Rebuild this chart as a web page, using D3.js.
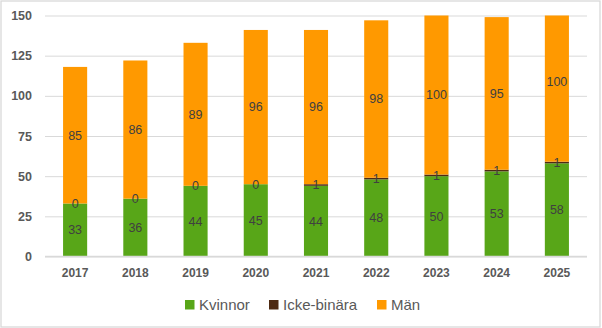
<!DOCTYPE html>
<html><head><meta charset="utf-8">
<script src="https://cdn.jsdelivr.net/npm/d3@7"></script>
<style>body{margin:0;background:#fff}svg{display:block}</style>
</head><body>
<svg id="c" width="602" height="328"></svg>
<script>
const years = ["2017","2018","2019","2020","2021","2022","2023","2024","2025"];
const kvinnor = [33,36,44,45,44,48,50,53,58];
const ickeBinara = [0,0,0,0,1,1,1,1,1];
const man = [85,86,89,96,96,98,100,95,100];
const seriesNames = ["Kvinnor","Icke-binära","Män"];
const seriesColors = ["#58a618","#4e2a12","#ff9900"];
const yTicks = [0,25,50,75,100,125,150];

const svg = d3.select("#c");
const W=602,H=328;
const m={left:45,right:15,top:15.5,bottom:71.5};
const x = d3.scaleBand().domain(years).range([m.left, W-m.right]).paddingInner(0.6).paddingOuter(0.3);
const y = d3.scaleLinear().domain([0,150]).range([H-m.bottom, m.top]);

svg.append("rect").attr("x",1).attr("y",1).attr("width",599).attr("height",326)
  .attr("fill","#fff").attr("stroke","#d9d9d9").attr("stroke-width",1.3);

// grid
const ya = d3.axisLeft(y).tickValues(yTicks).tickSize(-(W-m.left-m.right)).tickPadding(13);
const g = svg.append("g").attr("transform",`translate(${m.left},0)`).call(ya);
g.select(".domain").remove();
g.selectAll(".tick line").attr("stroke","#d9d9d9").attr("stroke-width",1);
g.selectAll(".tick text").attr("fill","#595959").attr("font-family","Liberation Sans, Arial, sans-serif")
  .attr("font-size",12.5).attr("font-weight","bold");

const data = years.map((yr,i)=>({year:yr,Kvinnor:kvinnor[i],"Icke-binära":ickeBinara[i],"Män":man[i]}));
const stack = d3.stack().keys(seriesNames)(data);

svg.append("clipPath").attr("id","clip").append("rect")
  .attr("x",m.left).attr("y",y(150)).attr("width",W-m.left-m.right).attr("height",y(0)-y(150));

const bars = svg.append("g").attr("clip-path","url(#clip)");
stack.forEach((s,si)=>{
  bars.selectAll(null).data(s).enter().append("rect")
    .attr("x",d=>x(d.data.year)).attr("width",x.bandwidth())
    .attr("y",d=>y(d[1])).attr("height",d=>Math.max(0,y(d[0])-y(d[1])))
    .attr("fill",seriesColors[si]);
});

// baseline
svg.append("line").attr("x1",m.left).attr("x2",W-m.right).attr("y1",y(0)).attr("y2",y(0))
  .attr("stroke","#d9d9d9").attr("stroke-width",1.5);

// labels
const lab = svg.append("g").attr("font-family","Liberation Sans, Arial, sans-serif")
  .attr("font-size",12.5).attr("fill","#404040").attr("text-anchor","middle");
stack.forEach((s,si)=>{
  lab.selectAll(null).data(s).enter().append("text")
    .attr("x",d=>x(d.data.year)+x.bandwidth()/2)
    .attr("y",d=>y((d[0]+d[1])/2))
    .attr("dy","0.35em")
    .text(d=>d[1]-d[0]);
});

// x axis
const xa = d3.axisBottom(x).tickSize(0).tickPadding(12);
const gx = svg.append("g").attr("transform",`translate(0,${y(0)})`).call(xa);
gx.select(".domain").remove();
gx.selectAll(".tick text").attr("fill","#595959").attr("font-family","Liberation Sans, Arial, sans-serif")
  .attr("font-size",12).attr("font-weight","bold");

// legend
const legX = [185,269,377];
const leg = svg.append("g");
seriesNames.forEach((n,i)=>{
  leg.append("rect").attr("x",legX[i]).attr("y",300).attr("width",9.5).attr("height",9.5).attr("fill",seriesColors[i]);
  leg.append("text").attr("x",legX[i]+14).attr("y",305).attr("dy","0.36em")
    .attr("font-family","Liberation Sans, Arial, sans-serif").attr("font-size",15).attr("fill","#595959").text(n);
});
</script>
</body></html>
